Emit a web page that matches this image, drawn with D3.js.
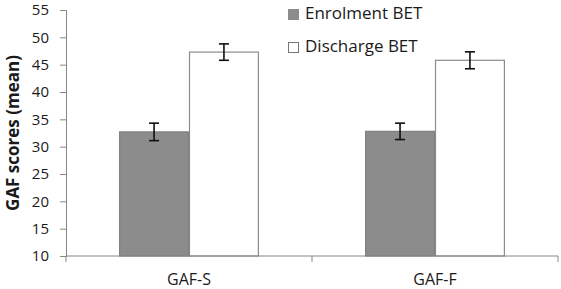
<!DOCTYPE html>
<html>
<head>
<meta charset="utf-8">
<script src="https://cdn.jsdelivr.net/npm/d3@7"></script>
<style>
  body { margin: 0; background: #fff; }
  text { font-family: "Open Sans", "Liberation Sans", sans-serif; fill: #1a1a1a; }
</style>
</head>
<body>
<div class="chart"></div>
<script>
const width = 561,
    height = 289,
    margin = { top: 10, bottom: 33, left: 66, right: 3 };

// data
const groups = ["GAF-S", "GAF-F"];
const series = ["Enrolment BET", "Discharge BET"];
const means = [[32.7, 47.3], [32.8, 45.8]];
const errors = [[1.6, 1.5], [1.5, 1.55]];
const yTicks = [10, 15, 20, 25, 30, 35, 40, 45, 50, 55];

const fills = ["#8c8c8c", "#ffffff"];
const strokes = ["#7f7f7f", "#8c8c8c"];

const rows = [];
groups.forEach((g, gi) => {
    series.forEach((s, si) => {
        rows.push({ group: g, series: s, si: si, mean: means[gi][si], err: errors[gi][si] });
    });
});

const svg = d3.select(".chart")
    .append("svg")
    .attr("width", width)
    .attr("height", height);

const x = d3.scaleBand()
    .domain(groups)
    .range([margin.left, width - margin.right]);

const xInner = d3.scaleBand()
    .domain(series)
    .range([0, x.bandwidth()])
    .paddingOuter(0.76)
    .paddingInner(0);

const y = d3.scaleLinear()
    .domain([10, 55])
    .range([height - margin.bottom, margin.top]);

// y axis
const yAxis = svg.append("g")
    .attr("transform", `translate(${margin.left}, 0)`)
    .call(d3.axisLeft(y).tickValues(yTicks).tickSize(6).tickPadding(11));
yAxis.select(".domain").attr("stroke", "#868686");
yAxis.selectAll(".tick line").attr("stroke", "#868686");
yAxis.selectAll(".tick text")
    .attr("font-size", "15px")
    .attr("fill", "#1a1a1a")
    .attr("font-family", "'DejaVu Sans', sans-serif");

// bars
svg.append("g")
    .selectAll("rect")
    .data(rows)
    .join("rect")
    .attr("x", d => x(d.group) + xInner(d.series) + 0.5)
    .attr("y", d => y(d.mean))
    .attr("width", xInner.bandwidth() - 1)
    .attr("height", d => y(10) - y(d.mean))
    .attr("fill", d => fills[d.si])
    .attr("stroke", d => strokes[d.si])
    .attr("stroke-width", 1.2);

// x axis
const xAxis = svg.append("g")
    .attr("transform", `translate(0, ${height - margin.bottom})`);
xAxis.append("line")
    .attr("x1", margin.left)
    .attr("x2", width - margin.right)
    .attr("stroke", "#868686");
xAxis.selectAll("line.tk")
    .data([margin.left, x("GAF-F"), width - margin.right])
    .join("line")
    .attr("class", "tk")
    .attr("x1", d => d)
    .attr("x2", d => d)
    .attr("y1", 0)
    .attr("y2", 6)
    .attr("stroke", "#868686");
xAxis.selectAll("text")
    .data(groups)
    .join("text")
    .attr("x", d => x(d) + x.bandwidth() / 2)
    .attr("y", 29)
    .attr("text-anchor", "middle")
    .attr("font-size", "16px")
    .attr("font-family", "'Liberation Sans', sans-serif")
    .text(d => d);

// error bars
const eb = svg.append("g")
    .selectAll("g")
    .data(rows)
    .join("g")
    .attr("stroke", "#111")
    .attr("stroke-width", 1.6);
const cx = d => x(d.group) + xInner(d.series) + xInner.bandwidth() / 2;
eb.append("line")
    .attr("x1", cx).attr("x2", cx)
    .attr("y1", d => y(d.mean + d.err))
    .attr("y2", d => y(d.mean - d.err));
eb.append("line")
    .attr("x1", d => cx(d) - 5).attr("x2", d => cx(d) + 5)
    .attr("y1", d => y(d.mean + d.err))
    .attr("y2", d => y(d.mean + d.err));
eb.append("line")
    .attr("x1", d => cx(d) - 5).attr("x2", d => cx(d) + 5)
    .attr("y1", d => y(d.mean - d.err))
    .attr("y2", d => y(d.mean - d.err));

// y title
svg.append("text")
    .attr("transform", `translate(19, ${(y(10) + y(55)) / 2}) rotate(-90)`)
    .attr("text-anchor", "middle")
    .attr("font-size", "17px")
    .attr("font-weight", "bold")
    .text("GAF scores (mean)");

// legend
const legend = svg.append("g")
    .selectAll("g")
    .data(series)
    .join("g")
    .attr("transform", (d, i) => `translate(288, ${9 + i * 33})`);
legend.append("rect")
    .attr("x", 0.5)
    .attr("y", 0.5)
    .attr("width", 10)
    .attr("height", 10)
    .attr("fill", (d, i) => fills[i])
    .attr("stroke", (d, i) => i === 0 ? "#8c8c8c" : "#777");
legend.append("text")
    .attr("x", 17)
    .attr("y", 10)
    .attr("font-size", "17px")
    .text(d => d);
</script>
</body>
</html>
